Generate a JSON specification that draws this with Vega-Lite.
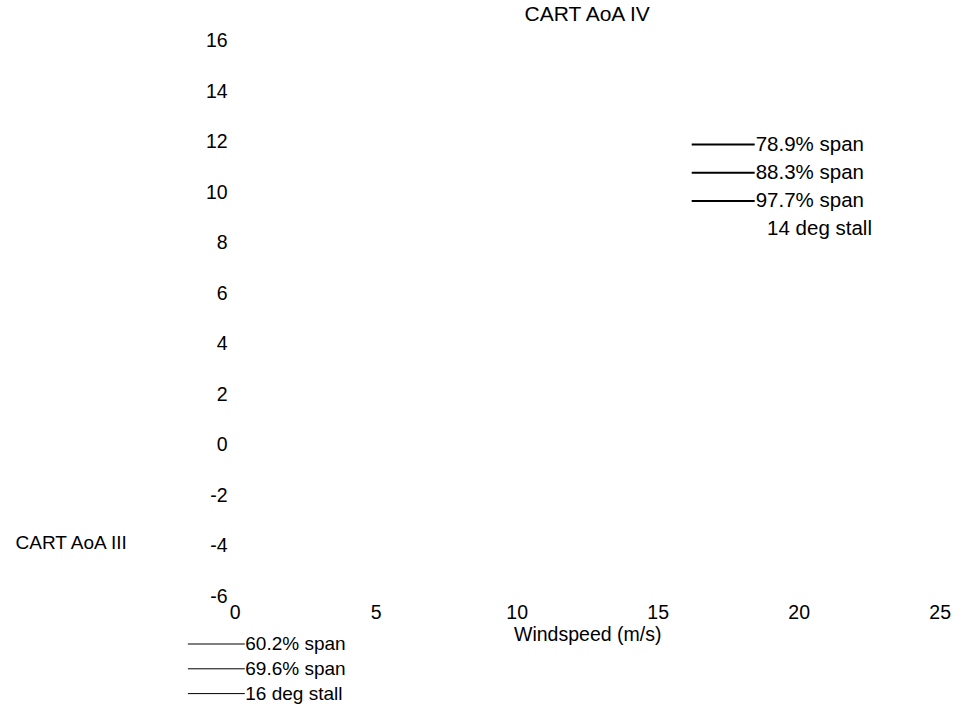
{
  "$schema": "https://vega.github.io/schema/vega-lite/v6.json",
  "width": 705,
  "height": 556,
  "autosize": {"type": "none"},
  "padding": {"left": 234.7, "top": 40.5, "right": 27.3, "bottom": 109.5},
  "background": "white",
  "title": {"text": "CART AoA IV", "anchor": "middle", "frame": "group", "fontSize": 21, "fontWeight": "normal", "font": "Liberation Sans", "color": "#000", "offset": 6},
  "data": {"values": [
    {"chart": "CART AoA IV", "series": "78.9% span", "windspeed": null, "aoa": null},
    {"chart": "CART AoA IV", "series": "88.3% span", "windspeed": null, "aoa": null},
    {"chart": "CART AoA IV", "series": "97.7% span", "windspeed": null, "aoa": null},
    {"chart": "CART AoA IV", "series": "14 deg stall", "windspeed": null, "aoa": null},
    {"chart": "CART AoA III", "series": "60.2% span", "windspeed": null, "aoa": null},
    {"chart": "CART AoA III", "series": "69.6% span", "windspeed": null, "aoa": null},
    {"chart": "CART AoA III", "series": "16 deg stall", "windspeed": null, "aoa": null}
  ]},
  "config": {
    "view": {"stroke": null},
    "font": "Liberation Sans",
    "axis": {"domain": false, "ticks": false, "grid": false, "labelColor": "#000", "titleColor": "#000", "labelFont": "Liberation Sans", "titleFont": "Liberation Sans", "titleFontWeight": "normal", "labelFlush": false, "labelOverlap": false, "labelExpr": "'' + datum.value"},
    "legend": {"labelFont": "Liberation Sans", "labelColor": "#000", "padding": 0, "symbolType": "stroke", "labelOffset": 0}
  },
  "resolve": {"scale": {"color": "independent"}, "legend": {"color": "independent"}},
  "layer": [
    {
      "transform": [{"filter": "datum.chart == 'CART AoA IV'"}],
      "mark": {"type": "line", "strokeWidth": 2},
      "encoding": {
        "x": {"field": "windspeed", "type": "quantitative", "scale": {"domain": [0, 25], "nice": false, "zero": false},
          "axis": {"values": [0, 5, 10, 15, 20, 25], "labelFontSize": 19.5, "labelPadding": 6.5, "title": "Windspeed (m/s)", "titleFontSize": 19.5, "titlePadding": 3.5}},
        "y": {"field": "aoa", "type": "quantitative", "scale": {"domain": [-6, 16], "nice": false, "zero": false},
          "axis": {"values": [-6, -4, -2, 0, 2, 4, 6, 8, 10, 12, 14, 16], "labelFontSize": 19.5, "labelPadding": 7.5, "title": "CART AoA III", "titleAngle": 0, "titleX": -219.7, "titleY": 502, "titleAlign": "left", "titleBaseline": "middle", "titleFontSize": 19}},
        "color": {"field": "series", "type": "nominal",
          "scale": {"domain": ["78.9% span", "88.3% span", "97.7% span", "14 deg stall"], "range": ["#000000", "#000000", "#000000", "transparent"]},
          "legend": {"orient": "none", "legendX": 456, "legendY": 94, "title": null, "symbolSize": 3969, "symbolStrokeWidth": 2, "clipHeight": 20, "rowPadding": 7.2, "labelFontSize": 20.5,
            "labelExpr": "datum.label == '14 deg stall' ? '\u200b\u00a0\u00a014 deg stall' : datum.label"}}
      }
    },
    {
      "transform": [{"filter": "datum.chart == 'CART AoA III'"}],
      "mark": {"type": "line", "strokeWidth": 1},
      "encoding": {
        "x": {"field": "windspeed", "type": "quantitative"},
        "y": {"field": "aoa", "type": "quantitative"},
        "color": {"field": "series", "type": "nominal",
          "scale": {"domain": ["60.2% span", "69.6% span", "16 deg stall"], "range": ["#000000", "#000000", "#000000"]},
          "legend": {"orient": "none", "legendX": -47.4, "legendY": 594.5, "title": null, "symbolSize": 3249, "symbolStrokeWidth": 1, "clipHeight": 18, "rowPadding": 5.8, "labelFontSize": 19}}
      }
    }
  ]
}
